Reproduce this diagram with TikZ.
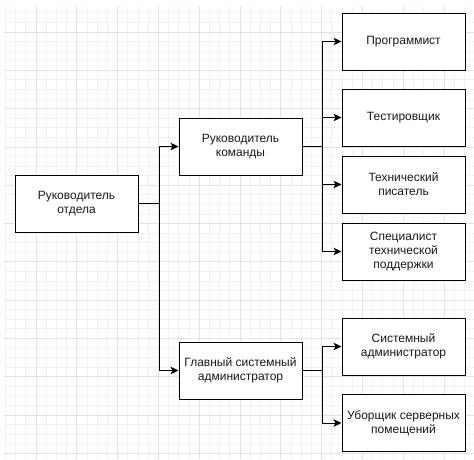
\documentclass[tikz,border=0pt]{standalone}
\usepackage{fontspec}
\setmainfont{Liberation Sans}
\usetikzlibrary{arrows.meta}
\begin{document}
\begin{tikzpicture}[x=1pt,y=-1pt,
  box/.style={draw=black,line width=1pt,fill=white,minimum width=123pt,minimum height=57pt,inner sep=0pt,align=center,font=\fontsize{12}{14}\selectfont,text=black!90},
  arr/.style={draw=black,line width=1pt,-{Stealth[length=8pt,width=7.5pt,inset=2pt]}},
  minorgrid/.style={draw=black!5,line width=0.8pt},
  majorgrid/.style={draw=black!11,line width=0.8pt}]
\useasboundingbox (0,0) rectangle (474,459);
\fill[white] (0,0) rectangle (474,459);
% minor grid
\foreach \k in {-3,...,43} {\draw[minorgrid] ({36+10.2*\k},6) -- ({36+10.2*\k},459);}
\foreach \k in {-2,...,45} {\draw[minorgrid] (4,{32+9.575*\k}) -- (474,{32+9.575*\k});}
% major grid
\foreach \k in {0,...,10} {\draw[majorgrid] ({36+40.8*\k},6) -- ({36+40.8*\k},459);}
\foreach \k in {0,...,11} {\draw[majorgrid] (4,{32+38.3*\k}) -- (474,{32+38.3*\k});}
% nodes
\node[box] (otdel) at (76.5,203.5) {Руководитель\\отдела};
\node[box] (komandy) at (240.5,146.5) {Руководитель\\команды};
\node[box] (glavny) at (240.5,370.5) {Главный системный\\администратор};
\node[box] (prog) at (403.5,41.5) {Программист};
\node[box] (test) at (403.5,117.5) {Тестировщик};
\node[box] (tech) at (403.5,184.5) {Технический\\писатель};
\node[box] (spec) at (403.5,251.5) {Специалист\\технической\\поддержки};
\node[box] (sysadm) at (403.5,346.5) {Системный\\администратор};
\node[box] (ubor) at (403.5,423) {Уборщик серверных\\помещений};
% connectors
\draw[arr] (otdel.east) -- ++(20.5,0) |- (komandy.west);
\draw[arr] (otdel.east) -- ++(20.5,0) |- (glavny.west);
\foreach \t in {prog,test,tech,spec} {\draw[arr] (komandy.east) -- ++(20,0) |- (\t.west);}
\foreach \t in {sysadm,ubor} {\draw[arr] (glavny.east) -- ++(20,0) |- (\t.west);}
\end{tikzpicture}
\end{document}
